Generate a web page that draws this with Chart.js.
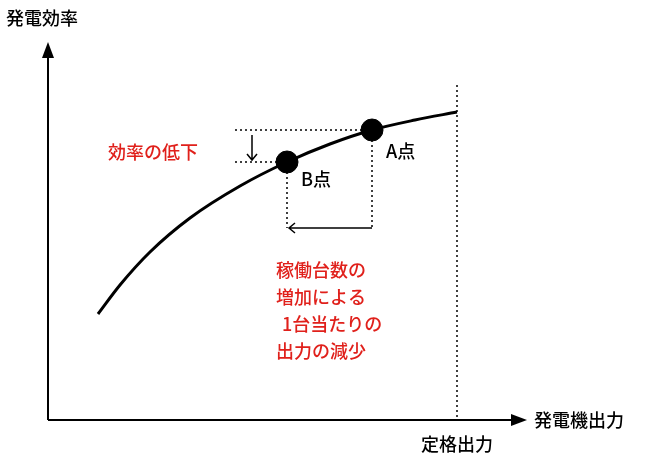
<!DOCTYPE html>
<html><head><meta charset="utf-8">
<script src="https://cdn.jsdelivr.net/npm/chart.js"></script>
<style>html,body{margin:0;padding:0;background:#fff}canvas{display:block}</style>
</head><body>
<canvas id="c" width="650" height="464"></canvas>
<script>
// concept curve: generator output vs efficiency (arbitrary units)
const curveX = [50, 72, 102, 142, 192, 239, 282, 324, 367, 409];
const curveY = [106, 135, 168, 202, 234, 258, 276, 290, 300, 308];
const pointLabels = ['B点', 'A点'];
const pointX = [239, 324];
const pointY = [258, 290];
const ratedX = 409;
const yLabel = '発電効率', xLabel = '発電機出力', ratedLabel = '定格出力';
const dropLabel = '効率の低下';
const noteLines = ['稼働台数の', '増加による', '1台当たりの', '出力の減少'];

const font = '"Noto Sans CJK JP", "Noto Sans", sans-serif';
const annot = {
  id: 'annot',
  afterDatasetsDraw(chart) {
    const {ctx, scales: {x, y}} = chart;
    const X = v => x.getPixelForValue(v), Y = v => y.getPixelForValue(v);
    ctx.save();
    ctx.strokeStyle = '#000'; ctx.fillStyle = '#000'; ctx.lineWidth = 2;
    const ox = X(0), oy = Y(0);
    ctx.beginPath(); ctx.moveTo(ox, oy); ctx.lineTo(ox, Y(368)); ctx.moveTo(ox, oy); ctx.lineTo(X(470), oy); ctx.stroke();
    ctx.beginPath(); ctx.moveTo(ox, Y(378)); ctx.lineTo(ox-6, Y(362)); ctx.lineTo(ox+6, Y(362)); ctx.fill();
    ctx.beginPath(); ctx.moveTo(X(479), oy); ctx.lineTo(X(463), oy-6); ctx.lineTo(X(463), oy+6); ctx.fill();
    ctx.lineWidth = 1.5; ctx.setLineDash([2, 3]);
    const bx = X(pointX[0]), by = Y(pointY[0]), ax = X(pointX[1]), ay = Y(pointY[1]);
    const hy = Y(192);
    ctx.beginPath();
    ctx.moveTo(X(ratedX), Y(335)); ctx.lineTo(X(ratedX), oy);
    ctx.moveTo(X(187), ay); ctx.lineTo(ax, ay);
    ctx.moveTo(X(187), by); ctx.lineTo(bx, by);
    ctx.moveTo(ax, ay); ctx.lineTo(ax, hy);
    ctx.moveTo(bx, by); ctx.lineTo(bx, hy);
    ctx.stroke();
    ctx.setLineDash([]);
    ctx.beginPath(); ctx.moveTo(X(204), Y(285)); ctx.lineTo(X(204), by-2);
    ctx.moveTo(X(199), by-8); ctx.lineTo(X(204), by-2); ctx.lineTo(X(209), by-8);
    ctx.moveTo(ax, hy); ctx.lineTo(bx+2, hy);
    ctx.moveTo(bx+8, hy-5); ctx.lineTo(bx+2, hy); ctx.lineTo(bx+8, hy+5);
    ctx.stroke();
    ctx.font = '500 18px ' + font; ctx.textBaseline = 'middle';
    ctx.fillText(yLabel, 6, 18);
    ctx.fillText(xLabel, X(486), oy);
    ctx.textAlign = 'center'; ctx.fillText(ratedLabel, X(ratedX), oy + 24);
    ctx.textAlign = 'left';
    ctx.fillText(pointLabels[1], ax + 14, ay + 21);
    ctx.fillText(pointLabels[0], bx + 14, by + 17);
    ctx.fillStyle = '#e0201b';
    ctx.fillText(dropLabel, X(60), Y(268));
    noteLines.forEach((t, i) => ctx.fillText(t, X(228) + (i === 2 ? 6 : 0), Y(150) + i * 27));
    ctx.restore();
  }
};

new Chart(document.getElementById('c'), {
  type: 'scatter',
  data: { datasets: [
    { data: curveX.map((v, i) => ({x: v, y: curveY[i]})), showLine: true, tension: 0.4,
      borderColor: '#000', borderWidth: 3, pointRadius: 0, cubicInterpolationMode: 'monotone' },
    { data: pointX.map((v, i) => ({x: v, y: pointY[i]})), pointRadius: 11, pointHoverRadius: 11,
      backgroundColor: '#000', borderColor: '#000' }
  ]},
  options: {
    responsive: false, animation: false, devicePixelRatio: 1,
    layout: { padding: 0, autoPadding: false },
    plugins: { legend: {display: false}, tooltip: {enabled: false} },
    scales: {
      x: { type: 'linear', min: -48, max: 602, display: false },
      y: { type: 'linear', min: -44, max: 420, display: false }
    }
  },
  plugins: [annot]
});
</script>
</body></html>
